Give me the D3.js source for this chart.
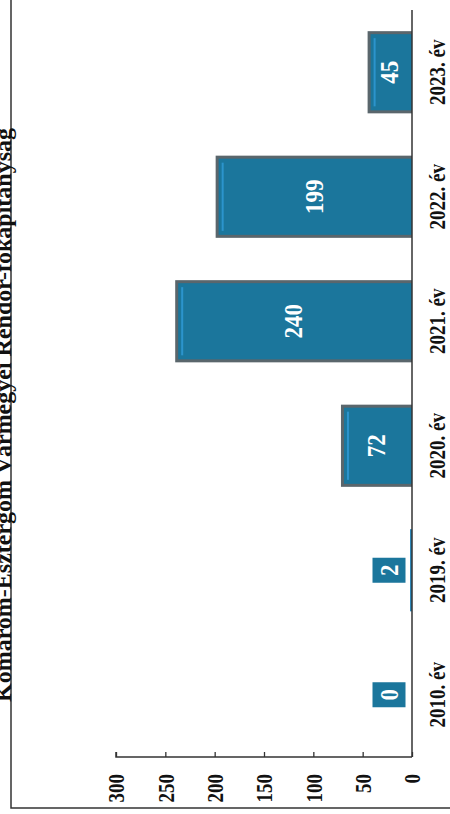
<!DOCTYPE html>
<html>
<head>
<meta charset="utf-8">
<script src="https://cdn.jsdelivr.net/npm/d3@7"></script>
<style>
  html, body { margin: 0; padding: 0; background: #fff; }
  svg { display: block; }
</style>
</head>
<body>
<svg id="chart" width="450" height="814"></svg>
<script>
// ---- data ----
const categories = ["2010. év", "2019. év", "2020. év", "2021. év", "2022. év", "2023. év"];
const values = [0, 2, 72, 240, 199, 45];
const valueTicks = [0, 50, 100, 150, 200, 250, 300];
const titleText = "Komárom-Esztergom Vármegyei Rendőr-főkapitányság";

// ---- setup (chart drawn rotated, as in the scanned page) ----
const svg = d3.select("#chart");
const W = 450, H = 814;
const font = "'Liberation Serif', 'Times New Roman', serif";

const axisX = 412;   // value 0 / category axis position
const axisY = 757;   // value axis position

const x = d3.scaleLinear().domain([0, 300]).range([axisX, 116]);
const y = d3.scaleBand().domain(categories).range([axisY, 10]).paddingInner(0.34).paddingOuter(0.17);

// frame
svg.append("path")
  .attr("d", `M11,0 L11,808 L${W},808`)
  .attr("fill", "none").attr("stroke", "#333").attr("stroke-width", 1.5);

// title (rotated, partially cut by the page edge as in the scan)
svg.append("text")
  .attr("transform", `translate(11,${(128 + 702) / 2}) rotate(-90)`)
  .attr("text-anchor", "middle")
  .attr("font-family", font).attr("font-weight", "bold").attr("font-size", 24)
  .attr("textLength", 574).attr("lengthAdjust", "spacingAndGlyphs")
  .attr("fill", "#111")
  .text(titleText);

// bars
const data = categories.map((c, i) => ({ c, v: values[i] }));
const bw = y.bandwidth();
const border = 3;
const barG = svg.append("g");
barG.selectAll("rect.outer").data(data).join("rect")
  .attr("class", "outer")
  .attr("x", d => x(d.v))
  .attr("y", d => y(d.c))
  .attr("width", d => x(0) - x(d.v))
  .attr("height", bw)
  .attr("fill", d => d.v > 5 ? "#5a666c" : "#2a86b8");
barG.selectAll("rect.inner").data(data.filter(d => d.v > 5)).join("rect")
  .attr("class", "inner")
  .attr("x", d => x(d.v) + border)
  .attr("y", d => y(d.c) + border)
  .attr("width", d => x(0) - x(d.v) - border)
  .attr("height", bw - 2 * border)
  .attr("fill", "#1b769c");
barG.selectAll("rect.stripe").data(data.filter(d => d.v > 5)).join("rect")
  .attr("class", "stripe")
  .attr("x", d => x(d.v) + border + 3)
  .attr("y", d => y(d.c) + border + 4)
  .attr("width", 2)
  .attr("height", bw - 2 * border - 8)
  .attr("fill", "#2c94cc");

// value axis (bottom, ticks pointing into plot)
const xAxis = d3.axisBottom(x).tickValues(valueTicks).tickSize(-5).tickFormat(d3.format("d"));
const gx = svg.append("g").attr("transform", `translate(0,${axisY})`).call(xAxis);
gx.select(".domain").attr("stroke", "#333").attr("stroke-width", 1.5).attr("d", `M${x(300)},-5V0H${x(0)}`);
gx.selectAll(".tick line").attr("stroke", "#333").attr("stroke-width", 1.3);
gx.selectAll(".tick text")
  .attr("y", 0).attr("x", 0).attr("dy", "0.35em")
  .attr("transform", "translate(0,17) rotate(-90) scale(1,1.2)")
  .attr("text-anchor", "end")
  .attr("font-family", font).attr("font-size", 19).attr("font-weight", "bold")
  .attr("fill", "#111");

// category axis (right)
const yAxis = d3.axisRight(y).tickSize(0).tickPadding(0);
const gy = svg.append("g").attr("transform", `translate(${axisX},0)`).call(yAxis);
gy.select(".domain").attr("stroke", "#333").attr("stroke-width", 1.5).attr("d", `M0,${axisY}V10`);
gy.selectAll(".tick text")
  .attr("x", 0).attr("y", 0).attr("dy", "0.35em")
  .attr("transform", "translate(25,0) rotate(-90) scale(1,1.2)")
  .attr("text-anchor", "middle")
  .attr("font-family", font).attr("font-size", 19).attr("font-weight", "bold")
  .attr("fill", "#111");

// value labels
const lab = svg.append("g").selectAll("g").data(data).join("g")
  .attr("transform", d => `translate(${Math.min(x(d.v / 2), x(0) - 23)},${y(d.c) + bw / 2})`);
lab.filter(d => d.v <= 5).append("rect")
  .attr("x", -16.5).attr("y", -12.5).attr("width", 33).attr("height", 25)
  .attr("fill", "#1b769c");
lab.append("text")
  .attr("transform", "rotate(-90) scale(1,1.1)")
  .attr("text-anchor", "middle").attr("dy", "0.35em")
  .attr("font-family", font).attr("font-weight", "bold").attr("font-size", 23)
  .attr("fill", "#fff")
  .text(d => d.v);
</script>
</body>
</html>
